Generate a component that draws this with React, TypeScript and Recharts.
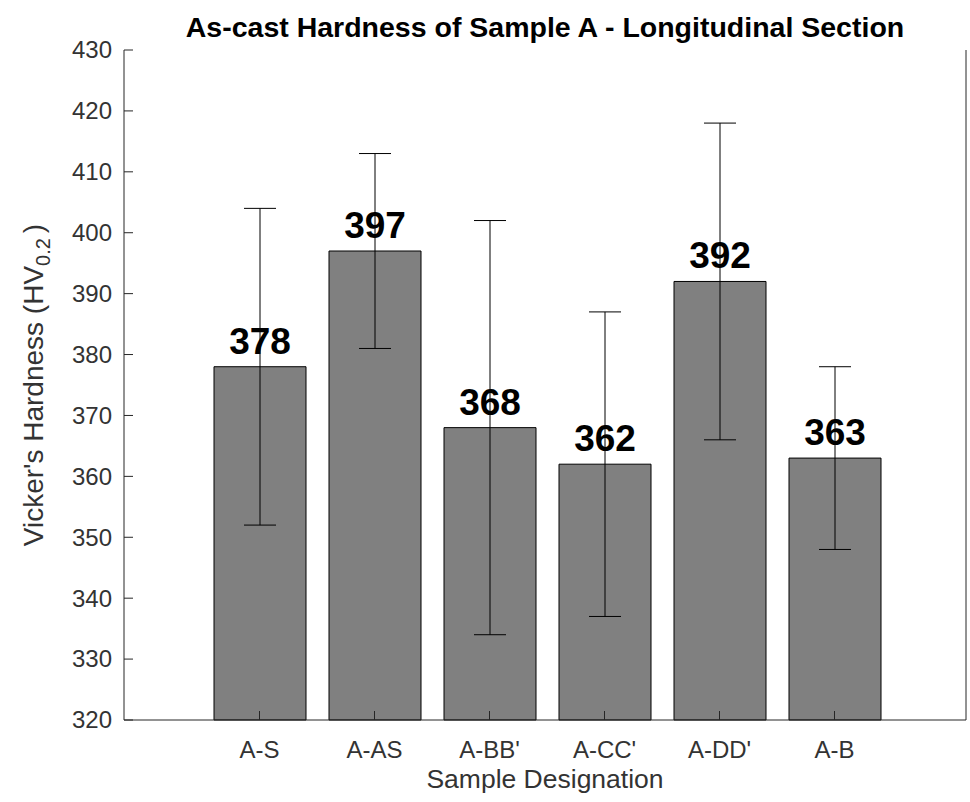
import React from "react";
import {
  Bar,
  BarChart,
  ErrorBar,
  LabelList,
  XAxis,
  YAxis,
} from "recharts";

const SAMPLES = ["A-S", "A-AS", "A-BB'", "A-CC'", "A-DD'", "A-B"];
const HARDNESS = [378, 397, 368, 362, 392, 363];
const STD_DEV = [26, 16, 34, 25, 26, 15];
const Y_TICKS = [320, 330, 340, 350, 360, 370, 380, 390, 400, 410, 420, 430];

const FONT = "'Liberation Sans', Arial, Helvetica, sans-serif";
const AXIS = "#262626";
const TEXT = "#333333";
const TICK_LEN = 9;

const rows = SAMPLES.map((name, i) => ({
  name,
  hv: HARDNESS[i],
  sd: STD_DEV[i],
}));

// MATLAB-style inward ticks; tickSize=0 so x/y arrive at the label spot
function LeftTick(props: any) {
  const { x, y, payload } = props;
  const ax = x + 12;
  return (
    <g>
      <line x1={ax} x2={ax + TICK_LEN} y1={y} y2={y} stroke={AXIS} />
      <text x={x} y={y} dy="0.35em" textAnchor="end" fill={TEXT} fontSize={24} fontFamily={FONT}>
        {payload.value}
      </text>
    </g>
  );
}

function RightTick(props: any) {
  const { x, y } = props;
  return <line x1={x} x2={x - TICK_LEN} y1={y} y2={y} stroke={AXIS} />;
}

function BottomTick(props: any) {
  const { x, y, payload } = props;
  const ay = y - 12;
  return (
    <g>
      <line x1={x} x2={x} y1={ay} y2={ay - TICK_LEN} stroke={AXIS} />
      <text x={x} y={ay + 38} textAnchor="middle" fill={TEXT} fontSize={24} fontFamily={FONT}>
        {payload.value}
      </text>
    </g>
  );
}

function TopTick(props: any) {
  const { x, y } = props;
  return <line x1={x} x2={x} y1={y} y2={y + TICK_LEN} stroke={AXIS} />;
}

function YLabel() {
  return (
    <text
      transform="translate(43, 385) rotate(-90)"
      textAnchor="middle"
      fill={TEXT}
      fontSize={28}
      fontFamily={FONT}
    >
      Vicker's Hardness (HV
      <tspan fontSize={20} dy={7}>0.2</tspan>
      <tspan dy={-7} dx={5}>)</tspan>
    </text>
  );
}

function XLabel() {
  return (
    <text x={545} y={788} textAnchor="middle" fill={TEXT} fontSize={26.5} fontFamily={FONT}>
      Sample Designation
    </text>
  );
}

export default function App() {
  return (
    <div style={{ position: "relative", width: 970, height: 802, background: "#fff" }}>
      <style>{`body{margin:0}`}</style>
      <div
        style={{
          position: "absolute",
          top: 12,
          left: 124,
          width: 842,
          textAlign: "center",
          fontFamily: FONT,
          fontWeight: "bold",
          fontSize: 28.5,
          lineHeight: "30px",
          color: "#000",
        }}
      >
        As-cast Hardness of Sample A - Longitudinal Section
      </div>
      <BarChart
        width={970}
        height={802}
        data={rows}
        margin={{ top: 50, right: 0, left: 0, bottom: 0 }}
        barCategoryGap={0}
        style={{ position: "absolute", top: 0, left: 0 }}
      >
        <XAxis
          dataKey="name"
          xAxisId={0}
          height={82}
          padding={{ left: 78, right: 74 }}
          tickSize={0}
          tickMargin={12}
          tickLine={false}
          stroke={AXIS}
          tick={<BottomTick />}
          interval={0}
          label={<XLabel />}
        />
        <XAxis
          dataKey="name"
          xAxisId="top"
          orientation="top"
          height={0}
          padding={{ left: 78, right: 74 }}
          tickSize={0}
          tickLine={false}
          stroke={AXIS}
          tick={<TopTick />}
          interval={0}
        />
        <YAxis
          yAxisId={0}
          width={124}
          domain={[320, 430]}
          ticks={Y_TICKS}
          tickSize={0}
          tickMargin={12}
          tickLine={false}
          stroke={AXIS}
          tick={<LeftTick />}
          interval={0}
          label={<YLabel />}
        />
        <YAxis
          yAxisId="right"
          orientation="right"
          width={4}
          domain={[320, 430]}
          ticks={Y_TICKS}
          tickSize={0}
          tickLine={false}
          stroke={AXIS}
          tick={<RightTick />}
          interval={0}
        />
        <Bar
          dataKey="hv"
          xAxisId={0}
          yAxisId={0}
          fill="#808080"
          stroke="#000"
          strokeWidth={1}
          barSize={92}
          isAnimationActive={false}
        >
          <LabelList
            dataKey="hv"
            position="top"
            offset={13}
            fill="#000"
            fontSize={37}
            fontWeight="bold"
            fontFamily={FONT}
          />
          <ErrorBar dataKey="sd" width={16} stroke="#000" strokeWidth={1} isAnimationActive={false} />
        </Bar>
      </BarChart>
    </div>
  );
}
